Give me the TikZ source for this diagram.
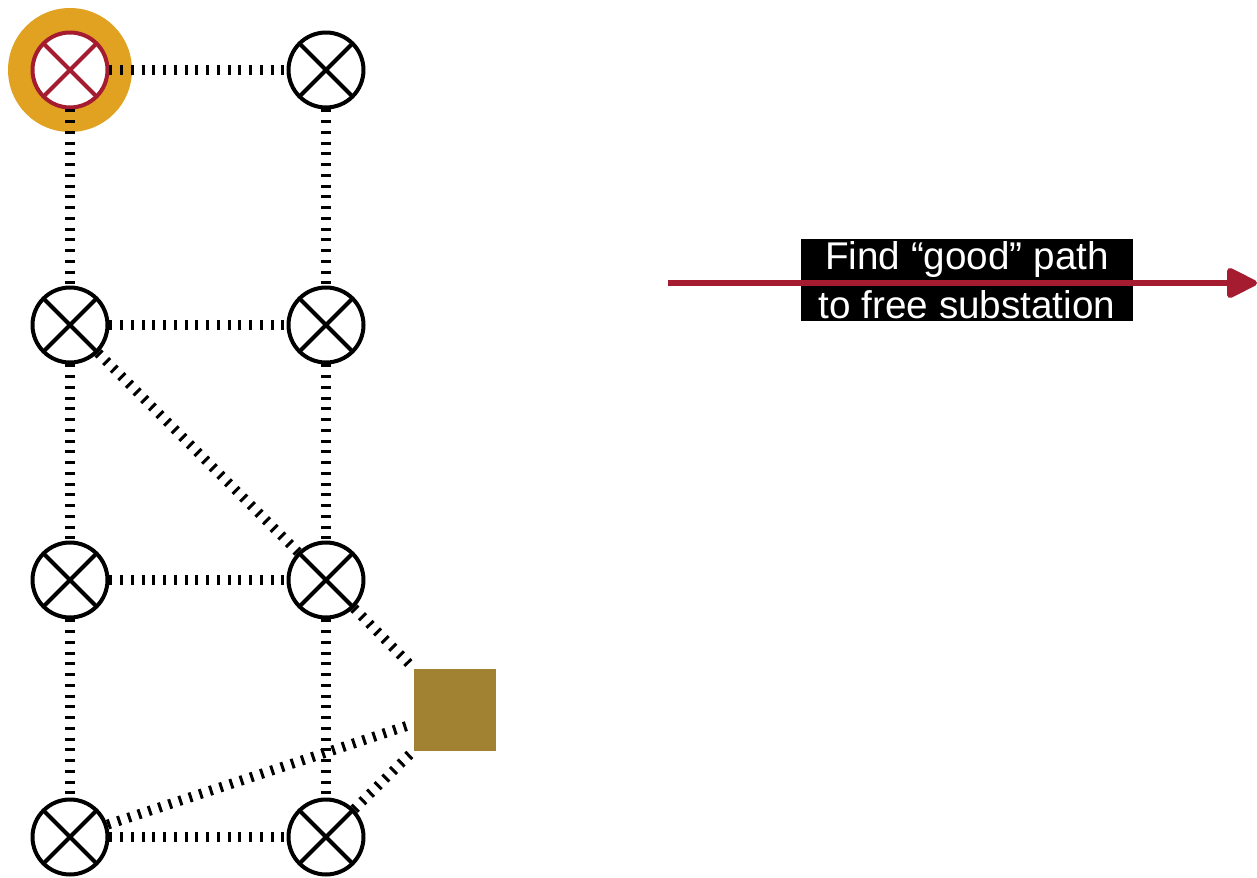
\documentclass[tikz,border=0pt]{standalone}
\usepackage{fontspec}
\setmainfont{Liberation Sans}
\usetikzlibrary{arrows.meta}
\definecolor{crimson}{RGB}{165,28,48}
\definecolor{halo}{RGB}{224,162,32}
\definecolor{subgold}{RGB}{161,130,51}

\begin{document}
\begin{tikzpicture}[x=0.02cm, y=-0.02cm,
  bus/.style={circle, draw=#1, line width=0.08cm, fill=white, minimum size=1.5cm, inner sep=0pt,
    path picture={\draw[#1, line width=0.08cm]
      (path picture bounding box.north west) -- (path picture bounding box.south east)
      (path picture bounding box.north east) -- (path picture bounding box.south west);}},
  bus/.default=black,
  link/.style={line width=0.2cm, dash pattern=on 0.06cm off 0.155cm},
  substation/.style={fill=subgold, minimum size=1.64cm, inner sep=0pt}]
  \useasboundingbox (0,0) rectangle (1257,878);
  % faulted bus
  \node[circle, fill=halo, minimum size=2.48cm, inner sep=0pt] (glow) at (70,70) {};
  \node[bus=crimson] (b1) at (70,70) {};
  % grid
  \node[bus] (b2) at (326,70) {};
  \node[bus] (b3) at (70,325) {};
  \node[bus] (b4) at (326,325) {};
  \node[bus] (b5) at (70,580) {};
  \node[bus] (b6) at (326,580) {};
  \node[bus] (b7) at (70,837) {};
  \node[bus] (b8) at (326,837) {};
  \node[substation] (sub) at (455,710) {};
  \draw[link] (b1) -- (b2);
  \draw[link] (b1) -- (b3);
  \draw[link] (b2) -- (b4);
  \draw[link] (b3) -- (b4);
  \draw[link] (b3) -- (b5);
  \draw[link] (b3) -- (b6);
  \draw[link] (b4) -- (b6);
  \draw[link] (b5) -- (b6);
  \draw[link] (b5) -- (b7);
  \draw[link] (b6) -- (b8);
  \draw[link] (b7) -- (b8);
  \draw[link] (b6) -- (sub);
  \draw[link] (b7) -- (sub);
  \draw[link] (b8) -- (sub);
  % step arrow
  \coordinate (from) at (668,283);
  \coordinate (to) at (1257,283);
  \node[fill=black, text=white, align=center, inner xsep=0.36cm, inner ysep=0.05cm,
    font=\fontsize{22}{28}\selectfont] (findlbl) at (967,280)
    {Find “good” path\\to free substation};
  \draw[crimson, line width=0.12cm, -{Triangle[length=0.68cm, width=0.64cm, round]}] (from) -- (to);
\end{tikzpicture}
\end{document}
